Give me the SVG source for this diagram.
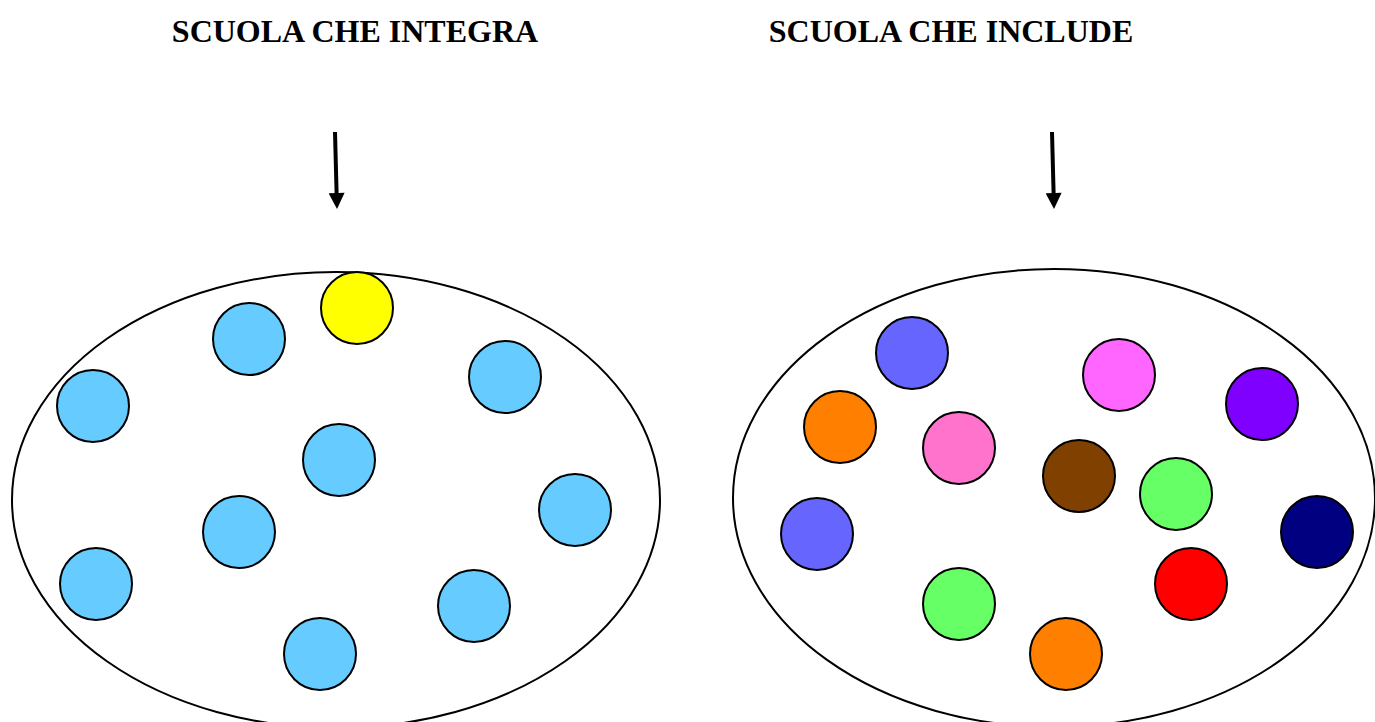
<svg xmlns="http://www.w3.org/2000/svg" width="1375" height="722" viewBox="0 0 1375 722">
<defs>
<style>
.title{font-family:"Liberation Serif","Times New Roman",serif;font-weight:bold;font-size:32px;fill:#000}
.big{fill:#fff;stroke:#000;stroke-width:2}
.c{stroke:#000;stroke-width:2}
.lb{fill:#66CCFF}
.arr{stroke:#000;stroke-width:4;fill:none}
</style>
<marker id="ah" viewBox="0 0 10 10" refX="0" refY="5" markerWidth="4.2" markerHeight="4" orient="auto" markerUnits="strokeWidth">
<path d="M0,0 L10,5 L0,10 z" fill="#000"/>
</marker>
</defs>
<rect width="1375" height="722" fill="#fff"/>
<g id="title-integra"><text class="title" x="355" y="42" text-anchor="middle">SCUOLA CHE INTEGRA</text></g>
<g id="title-include"><text class="title" x="951" y="42" text-anchor="middle">SCUOLA CHE INCLUDE</text></g>
<g id="connectors">
<line class="arr" x1="335" y1="132" x2="336.6" y2="193" marker-end="url(#ah)"/>
<line class="arr" x1="1052" y1="132" x2="1053.6" y2="193" marker-end="url(#ah)"/>
</g>
<g id="integra">
<ellipse class="big" cx="336" cy="500" rx="324" ry="228"/>
<circle class="c" cx="357" cy="308" r="36" fill="#FFFF00"/>
<circle class="c lb" cx="249" cy="339" r="36"/>
<circle class="c lb" cx="93" cy="406" r="36"/>
<circle class="c lb" cx="505" cy="377" r="36"/>
<circle class="c lb" cx="339" cy="460" r="36"/>
<circle class="c lb" cx="239" cy="532" r="36"/>
<circle class="c lb" cx="575" cy="510" r="36"/>
<circle class="c lb" cx="96" cy="584" r="36"/>
<circle class="c lb" cx="474" cy="606" r="36"/>
<circle class="c lb" cx="320" cy="654" r="36"/>
</g>
<g id="include">
<ellipse class="big" cx="1054" cy="498" rx="321" ry="229"/>
<circle class="c" cx="912" cy="353" r="36" fill="#6666FF"/>
<circle class="c" cx="1119" cy="375" r="36" fill="#FF66FF"/>
<circle class="c" cx="1262" cy="404" r="36" fill="#8000FF"/>
<circle class="c" cx="840" cy="427" r="36" fill="#FF8000"/>
<circle class="c" cx="959" cy="448" r="36" fill="#FF73CD"/>
<circle class="c" cx="1079" cy="476" r="36" fill="#804000"/>
<circle class="c" cx="1176" cy="494" r="36" fill="#66FF66"/>
<circle class="c" cx="1317" cy="532" r="36" fill="#000080"/>
<circle class="c" cx="817" cy="534" r="36" fill="#6666FF"/>
<circle class="c" cx="1191" cy="584" r="36" fill="#FF0000"/>
<circle class="c" cx="959" cy="604" r="36" fill="#66FF66"/>
<circle class="c" cx="1066" cy="654" r="36" fill="#FF8000"/>
</g>
</svg>
